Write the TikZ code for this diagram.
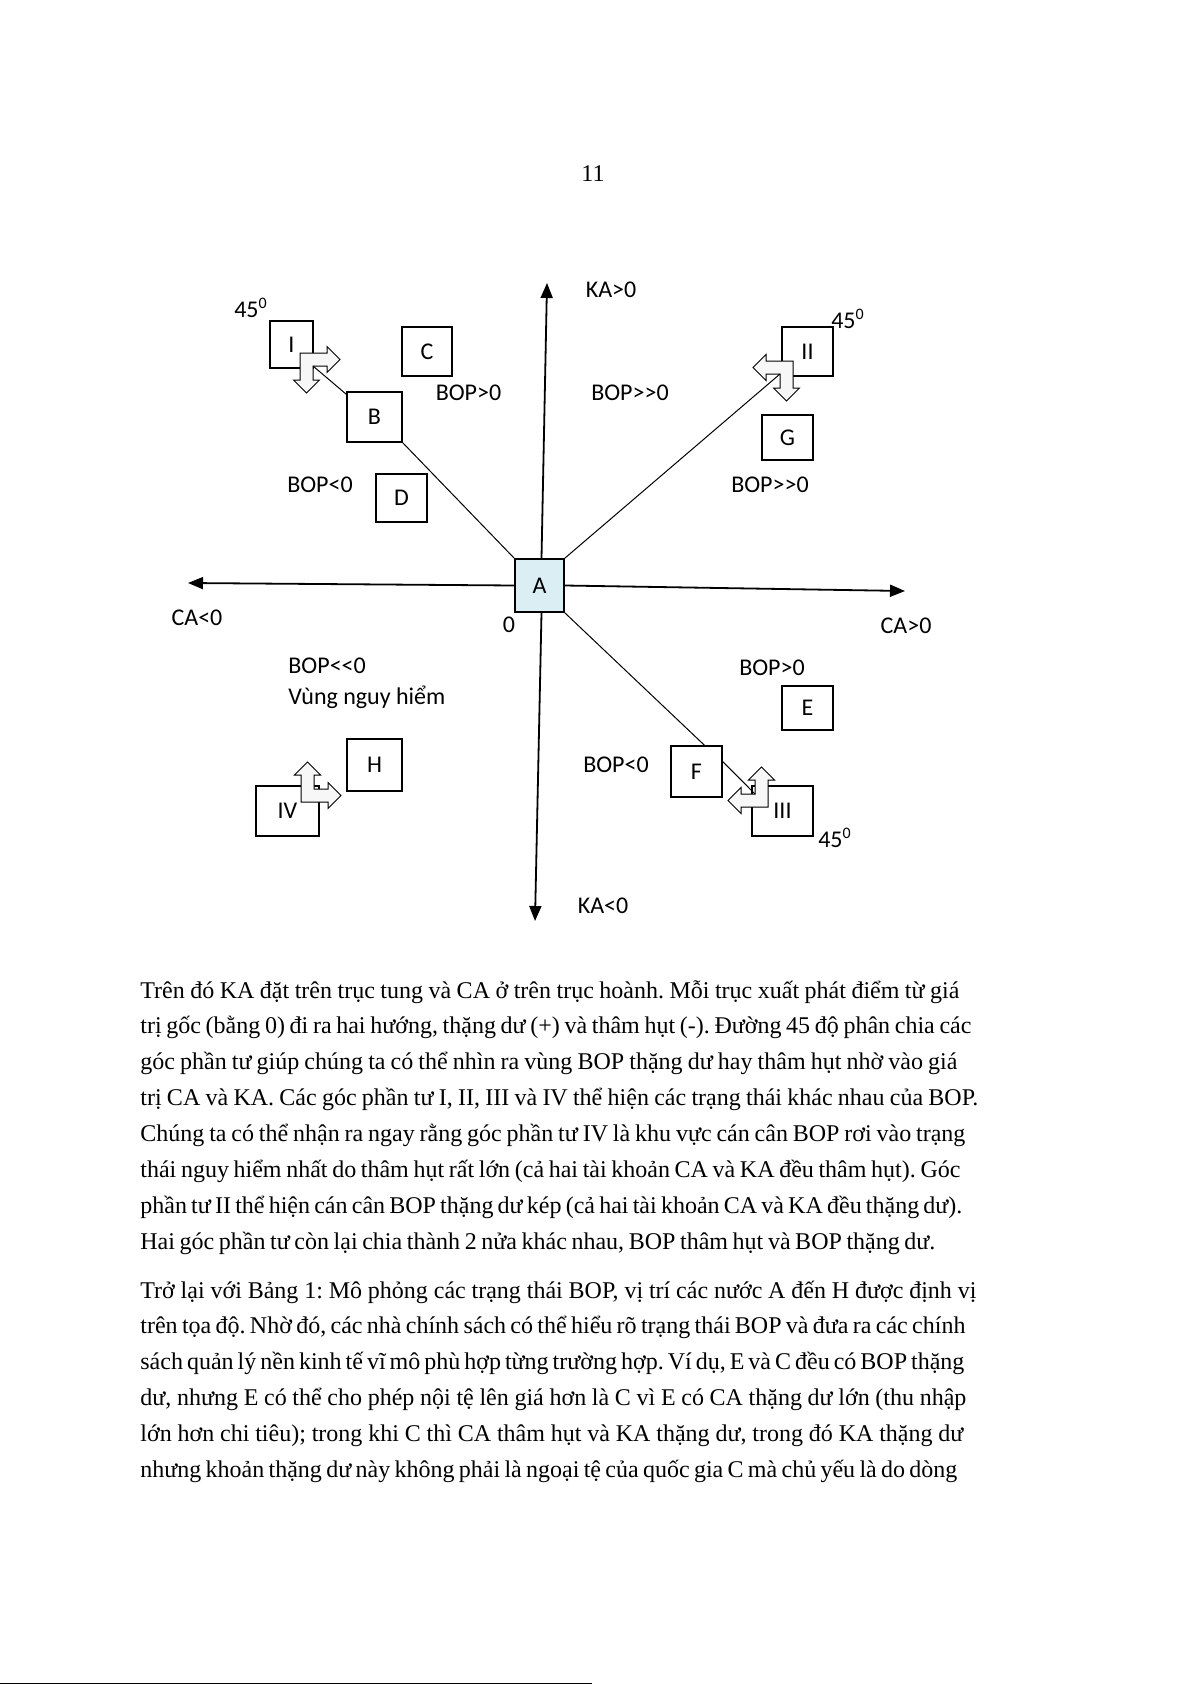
\documentclass[tikz,border=0pt]{standalone}
\usepackage{fontspec}
\setmainfont{Liberation Serif}
\newfontfamily\calibri{Carlito}
\usetikzlibrary{arrows.meta}
\definecolor{xanhnhat}{RGB}{218,238,243}
\frenchspacing
\begin{document}
\begin{tikzpicture}[x = 0.5pt, y = -0.5pt, > = {Triangle[length=7.5pt, width=6pt]},
	nhan/.style = {font = \calibri\fontsize{12}{14}\selectfont, inner sep = 0pt},
	hop/.style = {draw, line width = 0.7pt, inner sep = 0pt, font = \calibri\fontsize{12}{14}\selectfont},
	duong/.style = {line width = 0.5pt},
	truc/.style = {line width = 0.9pt, ->},
	vanban/.style = {font = \fontsize{12}{14}\selectfont, inner sep = 0pt, anchor = base west},
	muiten/.pic = {
		\draw[line width = 0.5pt, fill = gray!6] (0,0) -- (27,0) -- (27,-6.5) -- (40,6.5) -- (27,19.5) -- (27,13)
			-- (13,13) -- (13,27) -- (19.5,27) -- (6.5,40) -- (-6.5,27) -- (0,27) -- cycle;
		\coordinate (-goc) at (13,13);}]
	\path[use as bounding box, fill = white] (0,0) rectangle (1191,1685);
	\node[anchor = base, inner sep = 0pt, font = \fontsize{12}{14}\selectfont] (sotrang) at (593,182) {11};
	% Các hộp
	\node[hop, minimum width = 21.5pt, minimum height = 23.5pt] (I) at (291.5,344.5) {I};
	\node[hop, minimum width = 25pt, minimum height = 24.5pt] (C) at (427,351.5) {C};
	\node[hop, minimum width = 27.5pt, minimum height = 25pt] (B) at (374.5,417) {B};
	\node[hop, minimum width = 25.5pt, minimum height = 24pt] (D) at (401.5,498) {D};
	\node[hop, fill = xanhnhat, minimum width = 24.5pt, minimum height = 26.5pt] (A) at (539.5,585.5) {A};
	\node[hop, minimum width = 25.5pt, minimum height = 24.5pt] (II) at (807.5,351.5) {II};
	\node[hop, minimum width = 25.5pt, minimum height = 22.5pt] (G) at (787.5,437.5) {G};
	\node[hop, minimum width = 25.5pt, minimum height = 22pt] (E) at (807.5,708) {E};
	\node[hop, minimum width = 25.5pt, minimum height = 25.5pt] (F) at (696.5,771.5) {F};
	\node[hop, minimum width = 30.5pt, minimum height = 25pt] (III) at (782.5,811) {III};
	\node[hop, minimum width = 31.5pt, minimum height = 25pt] (IV) at (287.5,811) {IV};
	\node[hop, minimum width = 27.5pt, minimum height = 26pt] (H) at (374.5,765) {H};
	%Vẽ hai trục
	\coordinate (tructrai) at (188,583);
	\coordinate (trucphai) at (905,591);
	\coordinate (tructren) at (547,283);
	\coordinate (trucduoi) at (535,921);
	\draw[truc] (A.west) -- (tructrai);
	\draw[truc] (A.east) -- (trucphai);
	\draw[truc] ([xshift = 1pt]A.north) -- (tructren);
	\draw[truc] ([xshift = 1pt]A.south) -- (trucduoi);
	% Mũi tên góc 45 độ
	\pic (mI) at (300,353) {muiten};
	\pic[xscale = -1] (mII) at (793,361) {muiten};
	\pic[scale = -1] (mIII) at (768,807) {muiten};
	\pic[yscale = -1] (mIV) at (301,802) {muiten};
	% Đường 45 độ
	\draw[duong] (A.north west) -- (B.south east);
	\draw[duong] ([yshift = -1.5pt]B.north west) -- (mI-goc);
	\draw[duong] (A.north east) -- (mII-goc);
	\draw[duong] (A.south east) -- ([xshift = 4pt]F.north);
	\draw[duong] ([yshift = 5pt]F.east) -- (mIII-goc);
	% Nhãn
	\node[nhan, anchor = base] (kaduong) at (611,297) {KA>0};
	\node[nhan, anchor = base] (bopC) at (468.5,400) {BOP>0};
	\node[nhan, anchor = base] (bopII) at (630,400) {BOP>>0};
	\node[nhan, anchor = base] (bopD) at (320,492) {BOP<0};
	\node[nhan, anchor = base] (bopG) at (770,492) {BOP>>0};
	\node[nhan, anchor = base] (caam) at (197,625) {CA<0};
	\node[nhan, anchor = base] (goc0) at (509,632) {0};
	\node[nhan, anchor = base] (caduong) at (906,633) {CA>0};
	\node[nhan, anchor = base west] (bopIV) at (288,673) {BOP<<0};
	\node[nhan, anchor = base west] (nguyhiem) at (288,704) {Vùng nguy hiểm};
	\node[nhan, anchor = base] (bopE) at (772,675) {BOP>0};
	\node[nhan, anchor = base] (bopF) at (616,772) {BOP<0};
	\node[nhan, anchor = base] (kaam) at (603,913) {KA<0};
	\foreach \ten/\vitri in {gocI/{(251,317)}, gocII/{(848,328)}, gocIII/{(835,847)}}
		\node[nhan, anchor = base] (\ten) at \vitri {45\textsuperscript{0}};
	% Đoạn văn
	\foreach \dong/\rong [count = \i] in {
		{Trên đó KA đặt trên trục tung và CA ở trên trục hoành. Mỗi trục xuất phát điểm từ giá}/409.5,
		{trị gốc (bằng 0) đi ra hai hướng, thặng dư (+) và thâm hụt (-). Đường 45 độ phân chia các}/415.5,
		{góc phần tư giúp chúng ta có thể nhìn ra vùng BOP thặng dư hay thâm hụt nhờ vào giá}/408.5,
		{trị CA và KA. Các góc phần tư I, II, III và IV thể hiện các trạng thái khác nhau của BOP.}/419,
		{Chúng ta có thể nhận ra ngay rằng góc phần tư IV là khu vực cán cân BOP rơi vào trạng}/412.5,
		{thái nguy hiểm nhất do thâm hụt rất lớn (cả hai tài khoản CA và KA đều thâm hụt). Góc}/410,
		{phần tư II thể hiện cán cân BOP thặng dư kép (cả hai tài khoản CA và KA đều thặng dư).}/411,
		{Hai góc phần tư còn lại chia thành 2 nửa khác nhau, BOP thâm hụt và BOP thặng dư.}/397.5}
		\node[vanban] (dongA\i) at (140,{998 + 35.9*(\i-1)}) {\makebox[\rong pt][s]{\dong}};
	\foreach \dong/\rong [count = \i] in {
		{Trở lại với Bảng 1: Mô phỏng các trạng thái BOP, vị trí các nước A đến H được định vị}/418,
		{trên tọa độ. Nhờ đó, các nhà chính sách có thể hiểu rõ trạng thái BOP và đưa ra các chính}/412.5,
		{sách quản lý nền kinh tế vĩ mô phù hợp từng trường hợp. Ví dụ, E và C đều có BOP thặng}/411,
		{dư, nhưng E có thể cho phép nội tệ lên giá hơn là C vì E có CA thặng dư lớn (thu nhập}/413,
		{lớn hơn chi tiêu); trong khi C thì CA thâm hụt và KA thặng dư, trong đó KA thặng dư}/411.5,
		{nhưng khoản thặng dư này không phải là ngoại tệ của quốc gia C mà chủ yếu là do dòng}/408.5}
		\node[vanban] (dongB\i) at (140,{1298 + 35.9*(\i-1)}) {\makebox[\rong pt][s]{\dong}};
	\draw[line width = 0.6pt] (0,1683.5) -- (592,1683.5);
\end{tikzpicture}
\end{document}
